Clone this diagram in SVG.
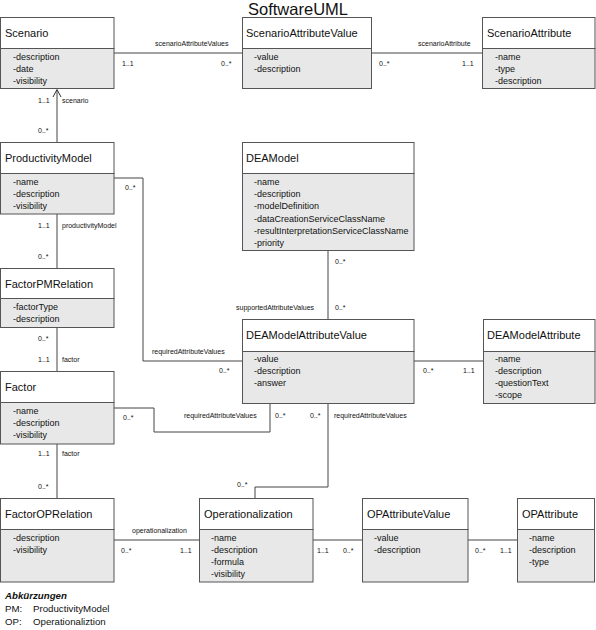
<svg xmlns="http://www.w3.org/2000/svg" width="596" height="630" viewBox="0 0 596 630">
<defs>
<style>
text{font-family:"Liberation Sans",Arial,sans-serif;fill:#111}
.box{fill:#fff;stroke:#555;stroke-width:1}
.att{fill:#e8e8e8;stroke:#555;stroke-width:1}
.hd{font-size:11px}
.at{font-size:9px}
.lb{font-size:7px}
.conn{fill:none;stroke:#444;stroke-width:1}
.title{font-size:16.5px}
.leg{font-size:9.7px}
</style>
<marker id="open" markerWidth="10" markerHeight="12" refX="5" refY="1" orient="auto-start-reverse" markerUnits="userSpaceOnUse" viewBox="0 0 10 12">
<path d="M1,9 L5,1 L9,9" fill="none" stroke="#333" stroke-width="1"/>
</marker>
</defs>
<rect width="596" height="630" fill="#fff"/>
<text class="title" x="298" y="15" text-anchor="middle">SoftwareUML</text>

<g id="connectors">
<line class="conn" x1="114" y1="53" x2="242" y2="53"/>
<line class="conn" x1="372" y1="53" x2="482" y2="53"/>
<path class="conn" d="M57,142 L57,90"/>
<path d="M53,97 L57,89.5 L61,97" fill="none" stroke="#333" stroke-width="1"/>
<line class="conn" x1="57" y1="214" x2="57" y2="268"/>
<path class="conn" d="M114,178 L143,178 L143,361 L242,361"/>
<line class="conn" x1="57" y1="328" x2="57" y2="371"/>
<path class="conn" d="M114,408 L154,408 L154,432 L270,432 L270,404"/>
<line class="conn" x1="57" y1="444" x2="57" y2="498"/>
<line class="conn" x1="114" y1="540" x2="199" y2="540"/>
<path class="conn" d="M255,498 L255,487 L328,487 L328,404"/>
<line class="conn" x1="313" y1="540" x2="362" y2="540"/>
<line class="conn" x1="468" y1="540" x2="517" y2="540"/>
<line class="conn" x1="328" y1="250" x2="328" y2="319"/>
<line class="conn" x1="414" y1="361" x2="483" y2="361"/>

<text class="lb" x="155" y="46">scenarioAttributeValues</text>
<text class="lb" x="122" y="66">1..1</text>
<text class="lb" x="221" y="66">0..*</text>
<text class="lb" x="418" y="46">scenarioAttribute</text>
<text class="lb" x="379" y="66">0..*</text>
<text class="lb" x="462" y="66">1..1</text>
<text class="lb" x="38" y="103">1..1</text>
<text class="lb" x="62" y="103">scenario</text>
<text class="lb" x="38" y="133">0..*</text>
<text class="lb" x="125" y="190">0..*</text>
<text class="lb" x="38" y="228">1..1</text>
<text class="lb" x="62" y="228">productivityModel</text>
<text class="lb" x="38" y="259">0..*</text>
<text class="lb" x="152" y="354">requiredAttributeValues</text>
<text class="lb" x="219" y="373">0..*</text>
<text class="lb" x="38" y="341">0..*</text>
<text class="lb" x="38" y="362">1..1</text>
<text class="lb" x="62" y="362">factor</text>
<text class="lb" x="123" y="420">0..*</text>
<text class="lb" x="184" y="418">requiredAttributeValues</text>
<text class="lb" x="275" y="418">0..*</text>
<text class="lb" x="310" y="418">0..*</text>
<text class="lb" x="334" y="418">requiredAttributeValues</text>
<text class="lb" x="38" y="456">1..1</text>
<text class="lb" x="62" y="456">factor</text>
<text class="lb" x="38" y="489">0..*</text>
<text class="lb" x="237" y="487">0..*</text>
<text class="lb" x="132" y="533">operationalization</text>
<text class="lb" x="121" y="553">0..*</text>
<text class="lb" x="180" y="553">1..1</text>
<text class="lb" x="317" y="553">1..1</text>
<text class="lb" x="343" y="553">0..*</text>
<text class="lb" x="475" y="553">0..*</text>
<text class="lb" x="500" y="553">1..1</text>
<text class="lb" x="335" y="264">0..*</text>
<text class="lb" x="335" y="310">0..*</text>
<text class="lb" x="236" y="310">supportedAttributeValues</text>
<text class="lb" x="423" y="373">0..*</text>
<text class="lb" x="463" y="373">1..1</text>
</g>

<g id="Scenario">
<rect class="box" x="0.5" y="17.5" width="113.5" height="31"/>
<rect class="att" x="0.5" y="48.5" width="113.5" height="40"/>
<text class="hd" x="5" y="37">Scenario</text>
<text class="at" x="13" y="60">-description</text>
<text class="at" x="13" y="72">-date</text>
<text class="at" x="13" y="84">-visibility</text>
</g>

<g id="ScenarioAttributeValue">
<rect class="box" x="242.5" y="17.5" width="129" height="31"/>
<rect class="att" x="242.5" y="48.5" width="129" height="40"/>
<text class="hd" x="246" y="37">ScenarioAttributeValue</text>
<text class="at" x="254" y="60">-value</text>
<text class="at" x="254" y="72">-description</text>
</g>

<g id="ScenarioAttribute">
<rect class="box" x="482.5" y="17.5" width="112.5" height="31"/>
<rect class="att" x="482.5" y="48.5" width="112.5" height="40"/>
<text class="hd" x="487" y="37">ScenarioAttribute</text>
<text class="at" x="495" y="60">-name</text>
<text class="at" x="495" y="72">-type</text>
<text class="at" x="495" y="84">-description</text>
</g>

<g id="ProductivityModel">
<rect class="box" x="0.5" y="142.5" width="113.5" height="31"/>
<rect class="att" x="0.5" y="173.5" width="113.5" height="40.5"/>
<text class="hd" x="5" y="162">ProductivityModel</text>
<text class="at" x="13" y="185">-name</text>
<text class="at" x="13" y="197">-description</text>
<text class="at" x="13" y="209">-visibility</text>
</g>

<g id="DEAModel">
<rect class="box" x="242.5" y="142.5" width="171.5" height="31"/>
<rect class="att" x="242.5" y="173.5" width="171.5" height="77"/>
<text class="hd" x="246" y="162">DEAModel</text>
<text class="at" x="254" y="185">-name</text>
<text class="at" x="254" y="197.2">-description</text>
<text class="at" x="254" y="209.4">-modelDefinition</text>
<text class="at" x="254" y="221.6">-dataCreationServiceClassName</text>
<text class="at" x="254" y="233.8">-resultInterpretationServiceClassName</text>
<text class="at" x="254" y="246">-priority</text>
</g>

<g id="FactorPMRelation">
<rect class="box" x="0.5" y="268.5" width="113.5" height="30"/>
<rect class="att" x="0.5" y="298.5" width="113.5" height="29"/>
<text class="hd" x="5" y="288">FactorPMRelation</text>
<text class="at" x="13" y="310">-factorType</text>
<text class="at" x="13" y="322">-description</text>
</g>

<g id="DEAModelAttributeValue">
<rect class="box" x="242.5" y="319.5" width="171.5" height="32"/>
<rect class="att" x="242.5" y="351.5" width="171.5" height="52"/>
<text class="hd" x="246" y="339">DEAModelAttributeValue</text>
<text class="at" x="254" y="362">-value</text>
<text class="at" x="254" y="374">-description</text>
<text class="at" x="254" y="386">-answer</text>
</g>

<g id="DEAModelAttribute">
<rect class="box" x="483.5" y="319.5" width="111.5" height="32"/>
<rect class="att" x="483.5" y="351.5" width="111.5" height="52"/>
<text class="hd" x="487" y="339">DEAModelAttribute</text>
<text class="at" x="495" y="362">-name</text>
<text class="at" x="495" y="374">-description</text>
<text class="at" x="495" y="386">-questionText</text>
<text class="at" x="495" y="398">-scope</text>
</g>

<g id="Factor">
<rect class="box" x="0.5" y="371.5" width="113.5" height="31"/>
<rect class="att" x="0.5" y="402.5" width="113.5" height="41.5"/>
<text class="hd" x="5" y="391">Factor</text>
<text class="at" x="13" y="414">-name</text>
<text class="at" x="13" y="426">-description</text>
<text class="at" x="13" y="438">-visibility</text>
</g>

<g id="FactorOPRelation">
<rect class="box" x="0.5" y="498.5" width="113.5" height="31"/>
<rect class="att" x="0.5" y="529.5" width="113.5" height="52.5"/>
<text class="hd" x="5" y="518">FactorOPRelation</text>
<text class="at" x="13" y="541">-description</text>
<text class="at" x="13" y="553">-visibility</text>
</g>

<g id="Operationalization">
<rect class="box" x="199.5" y="498.5" width="113.5" height="31"/>
<rect class="att" x="199.5" y="529.5" width="113.5" height="52.5"/>
<text class="hd" x="204" y="518">Operationalization</text>
<text class="at" x="211" y="541">-name</text>
<text class="at" x="211" y="553">-description</text>
<text class="at" x="211" y="565">-formula</text>
<text class="at" x="211" y="577">-visibility</text>
</g>

<g id="OPAttributeValue">
<rect class="box" x="362.5" y="498.5" width="105.5" height="31"/>
<rect class="att" x="362.5" y="529.5" width="105.5" height="52.5"/>
<text class="hd" x="367" y="518">OPAttributeValue</text>
<text class="at" x="374" y="541">-value</text>
<text class="at" x="374" y="553">-description</text>
</g>

<g id="OPAttribute">
<rect class="box" x="517.5" y="498.5" width="77" height="31"/>
<rect class="att" x="517.5" y="529.5" width="77" height="52.5"/>
<text class="hd" x="522" y="518">OPAttribute</text>
<text class="at" x="529" y="541">-name</text>
<text class="at" x="529" y="553">-description</text>
<text class="at" x="529" y="565">-type</text>
</g>

<g id="legend">
<text class="leg" x="5" y="599" font-weight="bold" font-style="italic">Abkürzungen</text>
<text class="leg" x="5" y="612">PM:</text>
<text class="leg" x="33" y="612">ProductivityModel</text>
<text class="leg" x="5" y="625">OP:</text>
<text class="leg" x="33" y="625">Operationaliztion</text>
</g>
</svg>
